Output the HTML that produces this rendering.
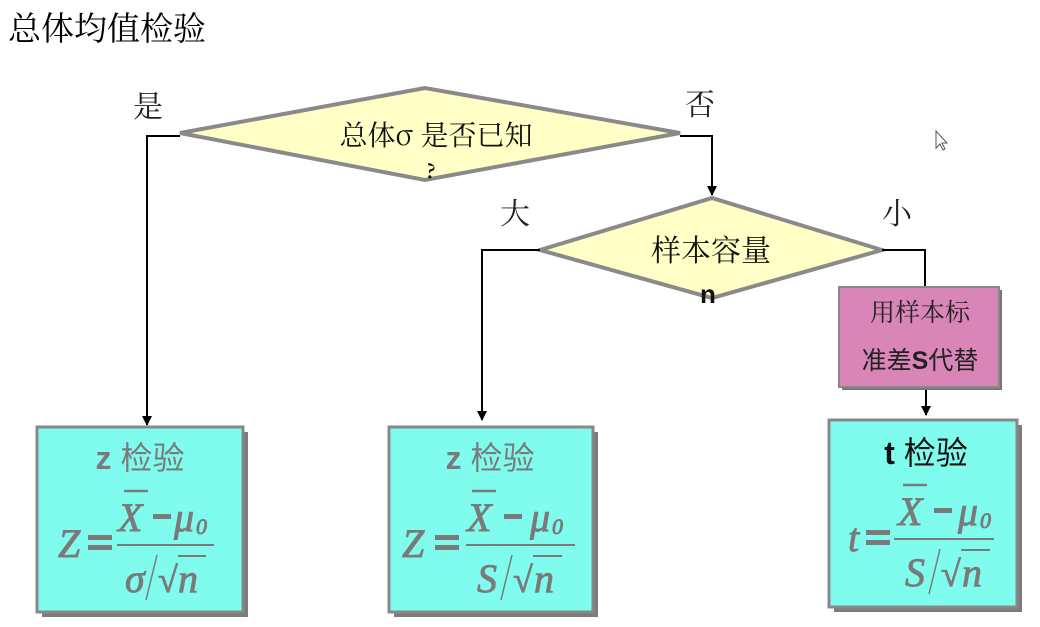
<!DOCTYPE html>
<html><head><meta charset="utf-8"><style>
html,body{margin:0;padding:0;background:#fff;}
svg{display:block;}
.cj{font-family:"Noto Serif CJK SC","Liberation Serif",serif;}
.cs{font-family:"Liberation Sans","Noto Sans CJK SC",sans-serif;}
.m{font-family:"Liberation Serif",serif;font-style:italic;fill:#7a7a7a;stroke:#7a7a7a;stroke-width:0.9;}
</style></head><body>
<svg width="1040" height="627" viewBox="0 0 1040 627" xmlns="http://www.w3.org/2000/svg">
<text x="8" y="40" class="cj" font-size="33" fill="#000">总体均值检验</text>

<!-- diamond 1 -->
<polygon points="180,133 425,88 680,133 425,180" fill="#ffffc6" stroke="#8a8a8a" stroke-width="4"/>
<text x="436" y="145" class="cj" font-size="28" text-anchor="middle" fill="#111">总体σ 是否已知</text>
<text x="431" y="178" class="cj" font-size="20" font-weight="bold" text-anchor="middle" fill="#111">?</text>
<text x="133" y="117" class="cj" font-size="30" fill="#222">是</text>
<text x="685" y="115" class="cj" font-size="30" fill="#222">否</text>

<!-- connectors -->
<polyline points="180,136 147,136 147,425" fill="none" stroke="#000" stroke-width="2"/>
<path d="M142,416 L152,416 L147,426 Z"/>
<polyline points="680,136 712,136 712,195" fill="none" stroke="#000" stroke-width="2"/>
<path d="M707,186 L717,186 L712,196 Z"/>

<!-- diamond 2 -->
<polygon points="540,250 712,198 882,250 712,298" fill="#ffffc6" stroke="#8a8a8a" stroke-width="4"/>
<text x="711" y="261" class="cj" font-size="30" text-anchor="middle" fill="#111">样本容量</text>
<text x="708" y="303" class="cs" font-size="26" font-weight="bold" text-anchor="middle" fill="#111">n</text>
<text x="500" y="224" class="cj" font-size="30" fill="#222">大</text>
<text x="882" y="224" class="cj" font-size="30" fill="#222">小</text>

<polyline points="540,250 482,250 482,420" fill="none" stroke="#000" stroke-width="2"/>
<path d="M477,411 L487,411 L482,421 Z"/>
<polyline points="882,250 925,250 925,290" fill="none" stroke="#000" stroke-width="2"/>

<!-- pink box -->
<rect x="842" y="290" width="160" height="100" fill="#777"/>
<rect x="839" y="287" width="160" height="100" fill="#d985b8" stroke="#888" stroke-width="2"/>
<text x="920" y="321" class="cj" font-size="25" text-anchor="middle" fill="#222">用样本标</text>
<text x="920" y="369" class="cs" font-size="25" text-anchor="middle" fill="#222">准差<tspan font-weight="bold">S</tspan>代替</text>
<line x1="926" y1="390" x2="926" y2="415" stroke="#000" stroke-width="2"/>
<path d="M921,406 L931,406 L926,416 Z"/>

<!-- box 1 -->
<rect x="42" y="432" width="206" height="185" fill="#7c7c7c"/>
<rect x="37" y="427" width="206" height="185" fill="#80fcef" stroke="#888" stroke-width="3"/>
<text x="140" y="469" class="cs" font-size="32" text-anchor="middle" fill="#7a7a7a"><tspan font-weight="bold">z</tspan> 检验</text>
<text x="58" y="557" class="m" font-size="40">Z</text>
<rect x="88" y="535" width="24" height="5" fill="#7a7a7a"/><rect x="88" y="545" width="24" height="5" fill="#7a7a7a"/>
<line x1="117" y1="545" x2="214" y2="545" stroke="#7a7a7a" stroke-width="2"/>
<line x1="124" y1="491" x2="148" y2="491" stroke="#7a7a7a" stroke-width="2.5"/>
<text x="118" y="531" class="m" font-size="40">X</text>
<rect x="153" y="514" width="18" height="5" fill="#7a7a7a"/>
<text x="174" y="531" class="m" font-size="40">μ</text>
<text x="196" y="534" class="m" font-size="22" font-style="normal">0</text>
<text x="125" y="592" class="m" font-size="40">σ</text>
<line x1="146" y1="600" x2="157" y2="555" stroke="#7a7a7a" stroke-width="1.5"/>
<text x="158" y="592" class="m" font-size="36" font-style="normal">√</text>
<line x1="178" y1="556" x2="206" y2="556" stroke="#7a7a7a" stroke-width="2"/>
<text x="178" y="592" class="m" font-size="40">n</text>

<!-- box 2 -->
<rect x="394" y="432" width="204" height="185" fill="#7c7c7c"/>
<rect x="389" y="427" width="204" height="185" fill="#80fcef" stroke="#888" stroke-width="3"/>
<text x="490" y="469" class="cs" font-size="32" text-anchor="middle" fill="#7a7a7a"><tspan font-weight="bold">z</tspan> 检验</text>
<text x="402" y="557" class="m" font-size="40">Z</text>
<rect x="435" y="535" width="24" height="5" fill="#7a7a7a"/><rect x="435" y="545" width="24" height="5" fill="#7a7a7a"/>
<line x1="466" y1="545" x2="575" y2="545" stroke="#7a7a7a" stroke-width="2"/>
<line x1="472" y1="491" x2="496" y2="491" stroke="#7a7a7a" stroke-width="2.5"/>
<text x="467" y="531" class="m" font-size="40">X</text>
<rect x="504" y="514" width="18" height="5" fill="#7a7a7a"/>
<text x="530" y="531" class="m" font-size="40">μ</text>
<text x="552" y="534" class="m" font-size="22" font-style="normal">0</text>
<text x="477" y="592" class="m" font-size="40">S</text>
<line x1="501" y1="600" x2="512" y2="555" stroke="#7a7a7a" stroke-width="1.5"/>
<text x="513" y="592" class="m" font-size="36" font-style="normal">√</text>
<line x1="533" y1="556" x2="562" y2="556" stroke="#7a7a7a" stroke-width="2"/>
<text x="534" y="592" class="m" font-size="40">n</text>

<!-- box 3 -->
<rect x="834" y="425" width="188" height="187" fill="#7c7c7c"/>
<rect x="829" y="420" width="188" height="187" fill="#80fcef" stroke="#888" stroke-width="3"/>
<text x="926" y="464" class="cs" font-size="32" text-anchor="middle" fill="#111"><tspan font-weight="bold">t</tspan> 检验</text>
<text x="848" y="551" class="m" font-size="40">t</text>
<rect x="866" y="530" width="24" height="5" fill="#7a7a7a"/><rect x="866" y="540" width="24" height="5" fill="#7a7a7a"/>
<line x1="894" y1="539" x2="994" y2="539" stroke="#7a7a7a" stroke-width="2"/>
<line x1="903" y1="485" x2="927" y2="485" stroke="#7a7a7a" stroke-width="2.5"/>
<text x="898" y="525" class="m" font-size="40">X</text>
<rect x="934" y="508" width="18" height="5" fill="#7a7a7a"/>
<text x="958" y="525" class="m" font-size="40">μ</text>
<text x="980" y="528" class="m" font-size="22" font-style="normal">0</text>
<text x="905" y="586" class="m" font-size="40">S</text>
<line x1="929" y1="594" x2="940" y2="549" stroke="#7a7a7a" stroke-width="1.5"/>
<text x="941" y="586" class="m" font-size="36" font-style="normal">√</text>
<line x1="961" y1="550" x2="990" y2="550" stroke="#7a7a7a" stroke-width="2"/>
<text x="962" y="586" class="m" font-size="40">n</text>

<!-- cursor -->
<path d="M936,131 L936,148 L940,144 L943,150 L945,149 L942,143 L947,143 Z" fill="#fff" stroke="#555" stroke-width="1"/>
</svg>
</body></html>
